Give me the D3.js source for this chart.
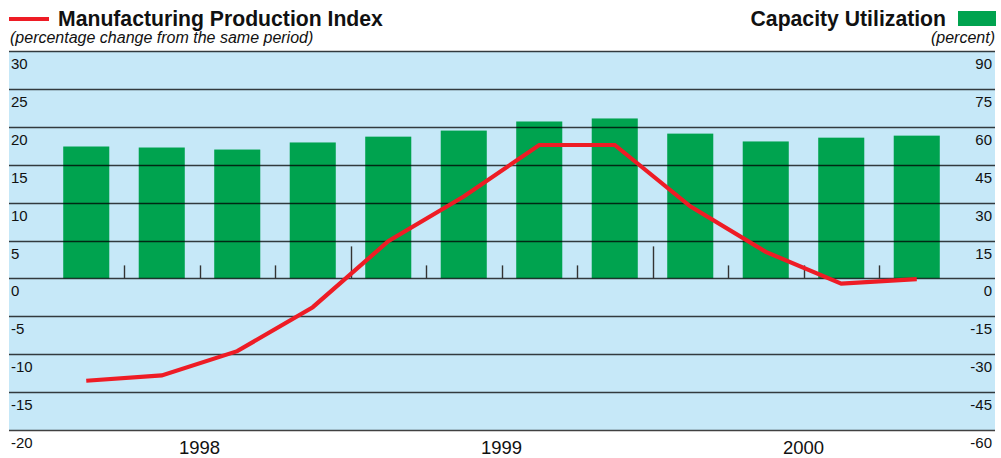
<!DOCTYPE html>
<html>
<head>
<meta charset="utf-8">
<script src="https://cdn.jsdelivr.net/npm/d3@7"></script>
<style>
  body { margin: 0; background: #fff; }
  svg { display: block; font-family: "Liberation Sans", Arial, sans-serif; }
</style>
</head>
<body>
<svg id="chart" width="1001" height="458"></svg>
<script>
// quarters 1998 Q1 .. 2000 Q4
var quarters = ["1998Q1","1998Q2","1998Q3","1998Q4","1999Q1","1999Q2","1999Q3","1999Q4","2000Q1","2000Q2","2000Q3","2000Q4"];
var years = ["1998", "1999", "2000"];
// capacity utilization, percent (right axis)
var capacity = [52.2, 51.8, 51.0, 53.8, 56.1, 58.5, 62.1, 63.3, 57.3, 54.2, 55.7, 56.5];
// manufacturing production index, % change (left axis)
var production = [-13.5, -12.8, -9.6, -3.8, 4.9, 10.8, 17.6, 17.6, 9.5, 3.5, -0.7, -0.1];
var leftTicks = [30, 25, 20, 15, 10, 5, 0, -5, -10, -15, -20];
var rightTicks = [90, 75, 60, 45, 30, 15, 0, -15, -30, -45, -60];

var plot = { left: 9, right: 995, top: 51, bottom: 430 };

var svg = d3.select("#chart");

var x = d3.scaleBand()
  .domain(quarters)
  .range([48.5, 954.5])
  .padding(0);

var yL = d3.scaleLinear().domain([-20, 30]).range([plot.bottom, plot.top]);
var yR = d3.scaleLinear().domain([-60, 90]).range([plot.bottom, plot.top]);

// background
svg.append("rect")
  .attr("x", plot.left)
  .attr("y", plot.top)
  .attr("width", plot.right - plot.left)
  .attr("height", plot.bottom - plot.top)
  .attr("fill", "#c6e8f8");

// bars
var barW = x.bandwidth() * 0.61;
svg.selectAll("rect.bar")
  .data(capacity)
  .enter()
  .append("rect")
    .attr("class", "bar")
    .attr("x", function(d, i) { return x(quarters[i]) + (x.bandwidth() - barW) / 2; })
    .attr("y", function(d) { return yR(d); })
    .attr("width", barW)
    .attr("height", function(d) { return yR(0) - yR(d); })
    .attr("fill", "#00a34f");

// gridlines
svg.selectAll("line.grid")
  .data(leftTicks)
  .enter()
  .append("line")
    .attr("class", "grid")
    .attr("x1", plot.left)
    .attr("x2", plot.right)
    .attr("y1", function(d) { return Math.round(yL(d)) + 0.5; })
    .attr("y2", function(d) { return Math.round(yL(d)) + 0.5; })
    .attr("stroke", "#000")
    .attr("stroke-opacity", 0.75)
    .attr("stroke-width", 1.6);

// quarter ticks on zero line
svg.selectAll("line.qtick")
  .data(quarters.slice(1))
  .enter()
  .append("line")
    .attr("class", "qtick")
    .attr("x1", function(d) { return Math.round(x(d)) + 0.5; })
    .attr("x2", function(d) { return Math.round(x(d)) + 0.5; })
    .attr("y1", yL(0))
    .attr("y2", function(d) { return d.slice(4) == "Q1" ? yL(0) - 32 : yL(0) - 13; })
    .attr("stroke", "#333")
    .attr("stroke-width", 1.4);

// left tick labels
svg.selectAll("text.lt")
  .data(leftTicks)
  .enter()
  .append("text")
    .attr("class", "lt")
    .attr("x", 11)
    .attr("y", function(d) { return yL(d) + 18; })
    .style("font-size", "15px")
    .attr("fill", "#111")
    .text(function(d) { return d; });

// right tick labels
svg.selectAll("text.rt")
  .data(rightTicks)
  .enter()
  .append("text")
    .attr("class", "rt")
    .attr("x", 992)
    .attr("y", function(d) { return yR(d) + 18; })
    .attr("text-anchor", "end")
    .style("font-size", "15px")
    .attr("fill", "#111")
    .text(function(d) { return d; });

// production line
var line = d3.line()
  .x(function(d, i) { return x(quarters[i]) + x.bandwidth() / 2; })
  .y(function(d) { return yL(d); });

svg.append("path")
  .datum(production)
  .attr("d", line)
  .attr("fill", "none")
  .attr("stroke", "#ee1c25")
  .attr("stroke-width", 4.2);

// year labels
svg.selectAll("text.year")
  .data(years)
  .enter()
  .append("text")
    .attr("class", "year")
    .attr("x", function(y) {
      var qs = quarters.filter(function(q) { return q.slice(0, 4) == y; });
      return (x(qs[0]) + x(qs[qs.length - 1]) + x.bandwidth()) / 2;
    })
    .attr("y", 454)
    .attr("text-anchor", "middle")
    .style("font-size", "18.5px")
    .attr("fill", "#111")
    .text(function(d) { return d; });

// legend / titles
svg.append("line")
  .attr("x1", 9).attr("x2", 49)
  .attr("y1", 19).attr("y2", 19)
  .attr("stroke", "#ee1c25")
  .attr("stroke-width", 4);

svg.append("text")
  .attr("x", 58).attr("y", 26)
  .style("font-size", "21.2px")
  .style("font-weight", "bold")
  .attr("fill", "#111")
  .text("Manufacturing Production Index");

svg.append("text")
  .attr("x", 10).attr("y", 43)
  .style("font-size", "16px")
  .style("font-style", "italic")
  .attr("fill", "#111")
  .text("(percentage change from the same period)");

svg.append("rect")
  .attr("x", 958).attr("y", 11)
  .attr("width", 38).attr("height", 15)
  .attr("fill", "#00a34f");

svg.append("text")
  .attr("x", 946).attr("y", 26)
  .attr("text-anchor", "end")
  .style("font-size", "21.2px")
  .style("font-weight", "bold")
  .attr("fill", "#111")
  .text("Capacity Utilization");

svg.append("text")
  .attr("x", 995).attr("y", 43)
  .attr("text-anchor", "end")
  .style("font-size", "16px")
  .style("font-style", "italic")
  .attr("fill", "#111")
  .text("(percent)");
</script>
</body>
</html>
